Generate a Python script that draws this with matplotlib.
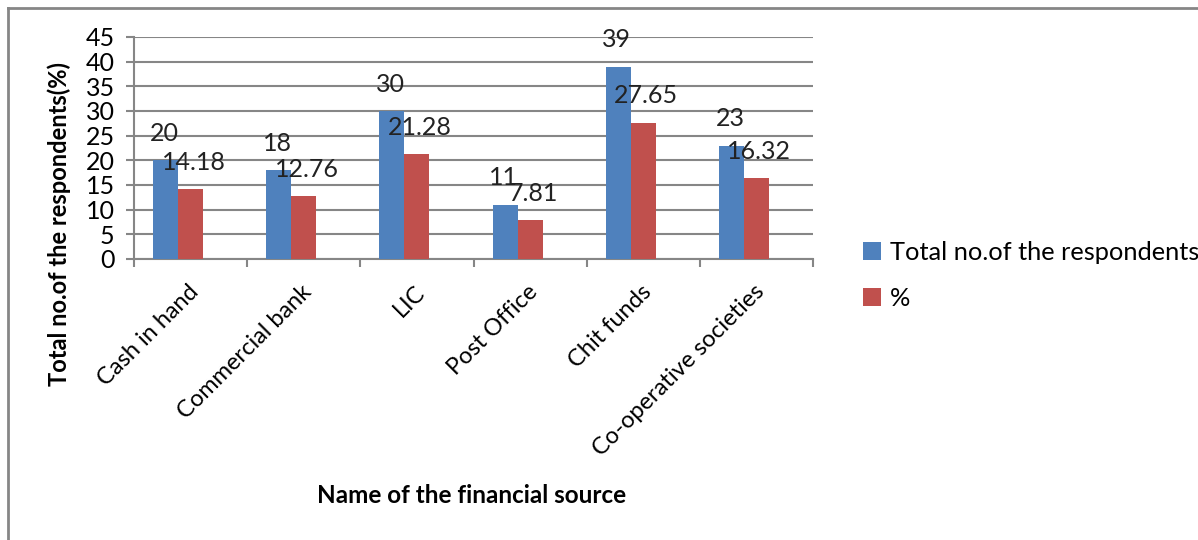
import numpy as np
import matplotlib.pyplot as plt
import matplotlib.transforms as mtransforms
from matplotlib.lines import Line2D

categorias = ['Cash in hand', 'Commercial bank', 'LIC', 'Post Office',
              'Chit funds', 'Co-operative societies']
total = [20, 18, 30, 11, 39, 23]
percent = [14.18, 12.76, 21.28, 7.81, 27.65, 16.32]
percent_txt = ['14.18', '12.76', '21.28', '7.81', '27.65', '16.32']

plt.rcParams['font.family'] = ['Lato', 'DejaVu Sans']

fig = plt.figure(figsize=(11.98, 5.40), dpi=100)
ax = fig.add_axes([0.1119, 0.5204, 0.5667, 0.4111])

x = np.arange(len(categorias))
w = 0.221
azul = '#4F81BD'
vermelho = '#C0504D'
cinza = '#868686'

b1 = ax.bar(x - w, total, w, color=azul, label='Total no.of the respondents', zorder=3)
b2 = ax.bar(x, percent, w, color=vermelho, label='%', zorder=3)

# rótulos dos dados
for xi, v in zip(x - w, total):
    ax.annotate(str(v), (xi, v), xytext=(-1, 11), textcoords='offset points',
                ha='center', va='bottom', fontsize=18, color='#222222')
for xi, v, t in zip(x, percent, percent_txt):
    ax.annotate(t, (xi, v), xytext=(2, 11), textcoords='offset points',
                ha='center', va='bottom', fontsize=18, color='#222222')

ax.set_xlim(-0.5, len(categorias) - 0.5)
ax.set_ylim(0, 45)
ax.set_yticks(np.arange(0, 46, 5))
ax.yaxis.grid(True, color=cinza, linewidth=1.5, zorder=0)
ax.set_axisbelow(True)

ax.set_xticks(x)
ax.set_xticklabels(categorias, rotation=45, ha='right', rotation_mode='anchor', fontsize=17)
ax.tick_params(axis='x', length=0, pad=16)
desloc = mtransforms.ScaledTranslation(-0.03, 0, fig.dpi_scale_trans)
for lbl in ax.get_xticklabels():
    lbl.set_transform(lbl.get_transform() + desloc)
ax.set_xticks(np.arange(-0.5, len(categorias), 1), minor=True)
ax.tick_params(axis='x', which='minor', length=6, color=cinza, width=1.5)
ax.tick_params(axis='y', labelsize=18, length=6, color=cinza, width=1.5, pad=8)

for s in ['top', 'right']:
    ax.spines[s].set_visible(False)
for s in ['left', 'bottom']:
    ax.spines[s].set_color(cinza)
    ax.spines[s].set_linewidth(1.5)

ax.set_ylabel('Total no.of the respondents(%)', fontsize=17, fontweight='bold')
ax.yaxis.set_label_coords(-0.093, 0.157)
fig.text(0.394, 0.083, 'Name of the financial source', fontsize=17.5, fontweight='bold',
         ha='center', va='center')

fig.legend(handles=[b1, b2], loc='upper left', bbox_to_anchor=(0.712, 0.573),
           frameon=False, fontsize=18.3, handlelength=0.7, handleheight=0.7,
           handletextpad=0.35, labelspacing=0.9, borderaxespad=0)

# moldura do gráfico
fig.add_artist(Line2D([0.007, 0.007], [0, 0.985], transform=fig.transFigure,
                      color=cinza, linewidth=2))
fig.add_artist(Line2D([0.007, 1.0], [0.985, 0.985], transform=fig.transFigure,
                      color=cinza, linewidth=2))

fig.savefig('out.png', dpi=100)
